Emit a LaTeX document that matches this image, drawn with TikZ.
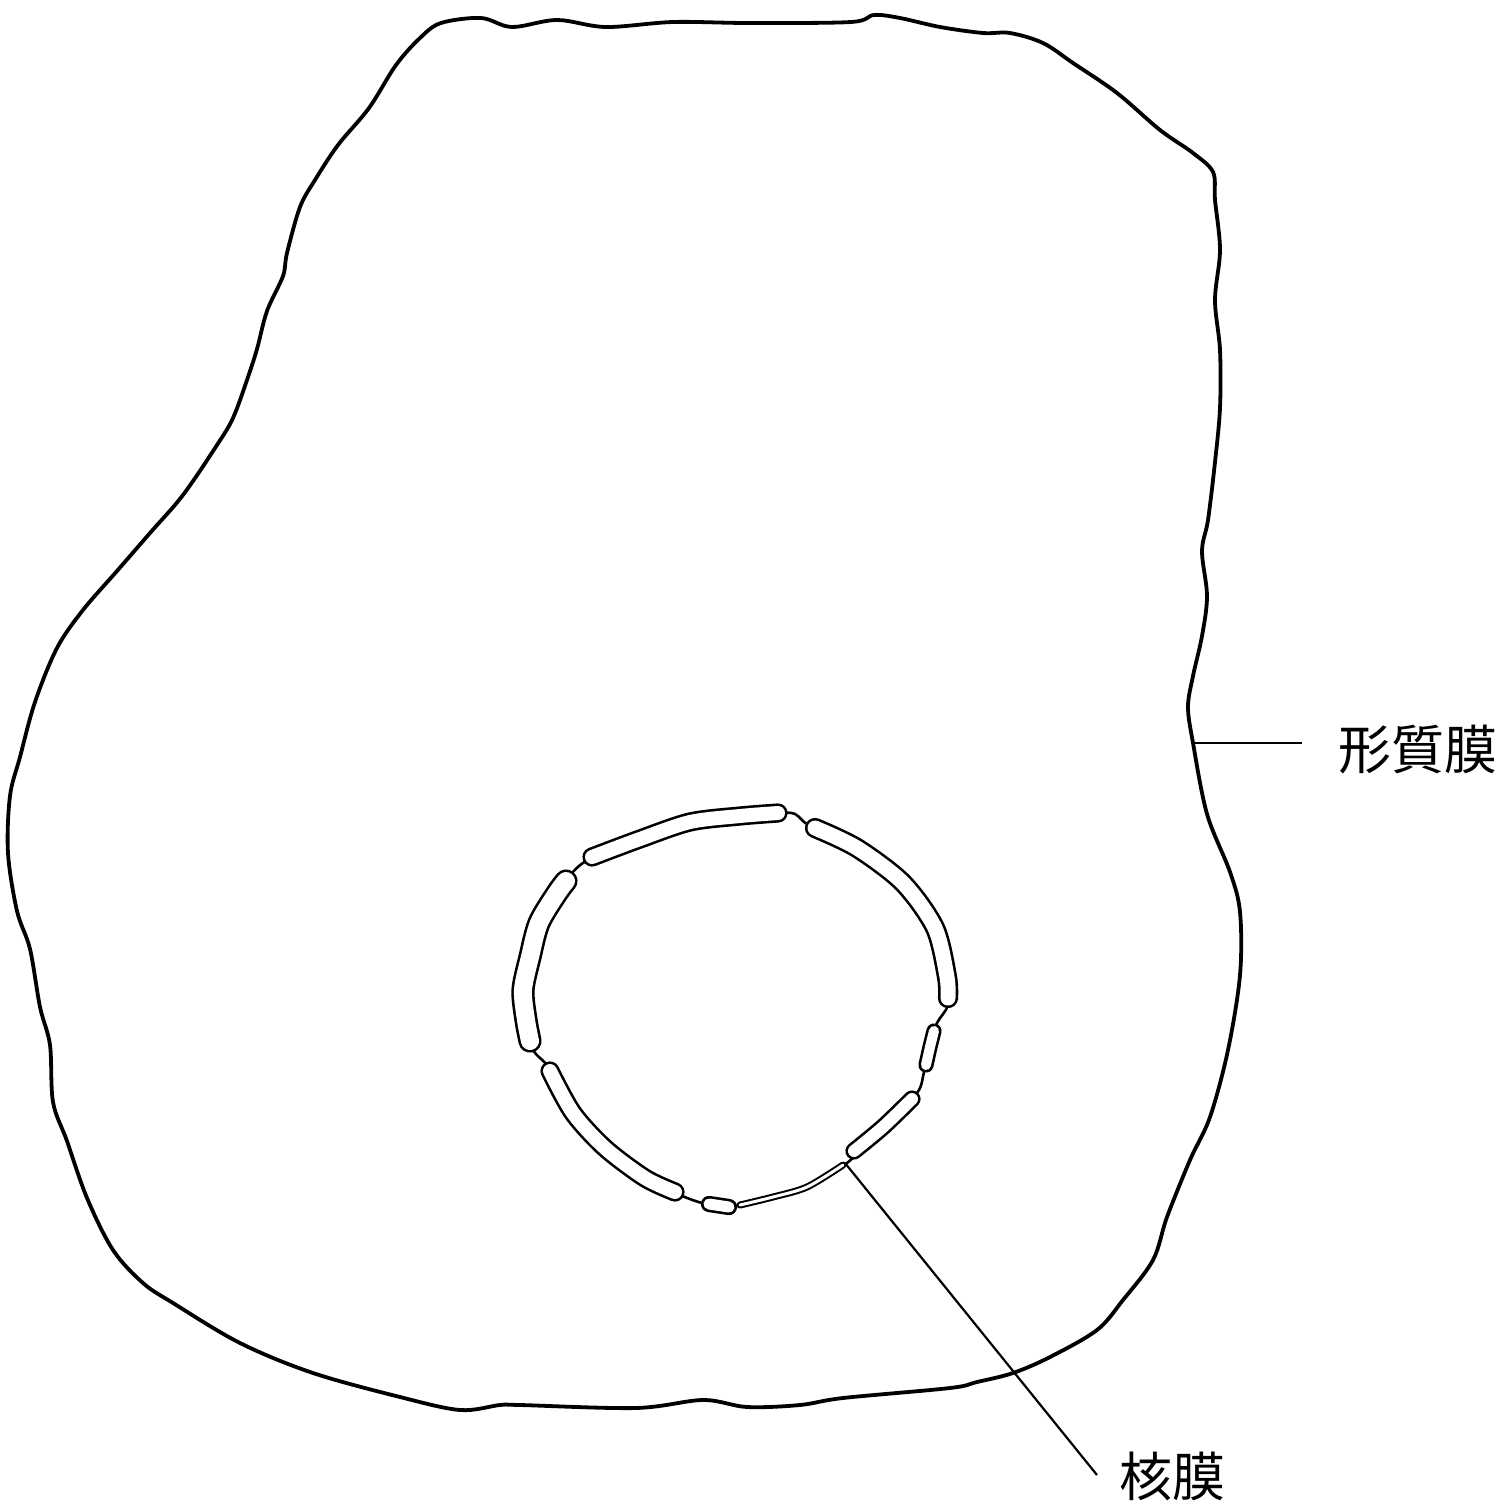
\documentclass[tikz,border=0pt]{standalone}
\usepackage{fontspec}
\newfontfamily\jp{Noto Sans CJK JP}
\begin{document}
\begin{tikzpicture}[x=0.5pt,y=-0.5pt,
  membrane/.style={line width=1.9pt,line join=round},
  envelope/.style={line width=1.3pt,line join=round},
  cisterna/.style={double,line width=1.3pt,line cap=round,line join=round},
  leader/.style={line width=1.1pt},
  label/.style={font=\jp\fontsize{26.5pt}{30pt}\selectfont,inner sep=0pt}]
\fill[white] (0,0) rectangle (1497,1505);
\useasboundingbox (0,0) rectangle (1497,1505);

% plasma membrane (cell outline)
\draw[membrane] plot[smooth cycle,tension=0.55] coordinates {
 (441,23) (481,18) (512,27) (557,20) (606,27) (673,22) (749,23) (851,22)
 (874,15) (900,18) (940,27) (983,33) (1010,33) (1043,43) (1073,63) (1117,93)
 (1160,130) (1193,153) (1213,172) (1215,200) (1220,250) (1215,300) (1220,350)
 (1220,408) (1215,462) (1208,520) (1202,551) (1207,596) (1202,636) (1193,676)
 (1188,707) (1193,743) (1207,814) (1230,872) (1240,912) (1240,975) (1228,1050)
 (1210,1117) (1190,1160) (1167,1217) (1153,1260) (1123,1300) (1097,1330)
 (1050,1357) (1013,1373) (977,1382) (950,1388) (843,1398) (800,1405) (747,1407)
 (703,1400) (636,1408) (520,1405) (500,1405) (460,1410) (400,1397) (313,1373)
 (240,1343) (173,1303) (143,1283) (113,1250) (87,1198) (67,1141) (53,1102)
 (50,1045) (40,1007) (30,949) (17,911) (8,853) (10,796) (20,757) (35,702)
 (57,648) (83,610) (117,571) (150,533) (183,495) (217,445) (233,418) (247,380)
 (257,349) (267,311) (283,276) (287,253) (300,207) (315,180) (338,145)
 (369,108) (396,65) (420,38)};

% nuclear envelope: base contour
\draw[envelope] plot[smooth cycle,tension=0.5] coordinates {
 (588,860) (640,839) (690,822) (740,816) (780,813) (795,814) (810,826)
 (857,848) (903,883) (935,928) (947,977) (948,1005) (937,1023) (930,1047)
 (924,1072) (917,1093) (883,1127) (847,1163) (807,1187) (773,1197) (737,1206)
 (718,1205) (702,1203) (680,1195) (645,1178) (605,1148) (573,1113) (549,1068)
 (533,1050) (526,1023) (522,990) (530,957) (537,923) (557,890) (570,875)};

% nuclear envelope: perinuclear cisternae
\draw[cisterna,double distance=7pt] plot[smooth,tension=0.5] coordinates {
 (592,857) (640,839) (690,822) (740,816) (778,813)};
\draw[cisterna,double distance=7.5pt] plot[smooth,tension=0.5] coordinates {
 (815,828) (857,848) (903,883) (935,928) (947,977) (948,998)};
\draw[cisterna,double distance=5pt] plot[smooth,tension=0.5] coordinates {
 (934,1031) (930,1047) (926,1065)};
\draw[cisterna,double distance=6pt] plot[smooth,tension=0.5] coordinates {
 (912,1099) (883,1127) (854,1151)};
\draw[cisterna,double distance=5.5pt] plot[smooth,tension=0.5] coordinates {
 (709,1204) (729,1207)};
\draw[cisterna,line width=1pt,double distance=1.5pt] plot[smooth,tension=0.5] coordinates {
 (740,1205) (773,1197) (807,1187) (843,1165)};
\draw[cisterna,double distance=7pt] plot[smooth,tension=0.5] coordinates {
 (550,1071) (573,1113) (605,1148) (645,1178) (675,1192)};
\draw[cisterna,double distance=9pt] plot[smooth,tension=0.5] coordinates {
 (566,881) (557,893) (539,923) (530,957) (523,990) (526,1020) (530,1041)};

% labels and leader lines
\coordinate (pm) at (1193,743);
\node[label] (pmlabel) at (1418,750) {形質膜};
\draw[leader,shorten >=18pt] (pm) -- (pmlabel.west |- pm);

\coordinate (nm) at (845,1163);
\coordinate (nmend) at (1097,1475);
\node[label] (nmlabel) at (1172,1476) {核膜};
\draw[leader] (nm) -- (nmend);
\end{tikzpicture}
\end{document}
